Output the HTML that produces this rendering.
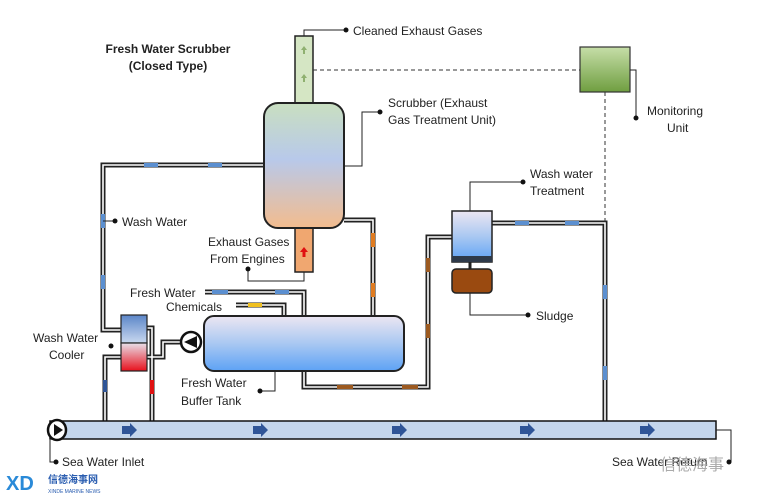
<!DOCTYPE html>
<html><head><meta charset="utf-8"><style>
html,body{margin:0;padding:0;background:#fff;}
svg{display:block;}
text{font-family:"Liberation Sans","Noto Sans CJK SC",sans-serif;font-size:12px;fill:#222;}
</style></head><body>
<svg width="761" height="500" viewBox="0 0 761 500" xmlns="http://www.w3.org/2000/svg">
<defs>
<linearGradient id="gS" x1="0" y1="0" x2="0" y2="1"><stop offset="0" stop-color="#c9dfc0"/><stop offset="0.45" stop-color="#b8c9ea"/><stop offset="1" stop-color="#f3bc8e"/></linearGradient>
<linearGradient id="gT" x1="0" y1="0" x2="0" y2="1"><stop offset="0" stop-color="#ece6f2"/><stop offset="0.5" stop-color="#a9c8f2"/><stop offset="1" stop-color="#5da2f5"/></linearGradient>
<linearGradient id="gM" x1="0" y1="0" x2="0" y2="1"><stop offset="0" stop-color="#c6dea8"/><stop offset="1" stop-color="#6f9e40"/></linearGradient>
<linearGradient id="gC1" x1="0" y1="0" x2="0" y2="1"><stop offset="0" stop-color="#5b86c8"/><stop offset="1" stop-color="#c9d8ef"/></linearGradient>
<linearGradient id="gC2" x1="0" y1="0" x2="0" y2="1"><stop offset="0" stop-color="#e8e0ea"/><stop offset="1" stop-color="#e8101c"/></linearGradient>
</defs>

<g fill="none" stroke="#222" stroke-width="5" stroke-linejoin="miter">
<path d="M264 165 H103 V330 H121"/>
<path d="M147 328 H152 V421"/>
<path d="M121 357 H105 V421"/>
<path d="M147 357 H163 V342 H181"/>
<path d="M344 220 H373 V316"/>
<path d="M205 292 H304 V316"/>
<path d="M236 305 H284 V316"/>
<path d="M304 371 V387 H428 V237 H452"/>
<path d="M492 223 H605 V421"/>
</g>
<g fill="none" stroke="#fff" stroke-width="1.6">
<path d="M264 165 H103 V330 H121"/>
<path d="M147 328 H152 V421"/>
<path d="M121 357 H105 V421"/>
<path d="M147 357 H163 V342 H181"/>
<path d="M344 220 H373 V316"/>
<path d="M205 292 H304 V316"/>
<path d="M236 305 H284 V316"/>
<path d="M304 371 V387 H428 V237 H452"/>
<path d="M492 223 H605 V421"/>
</g>
<g>
<rect x="144" y="163" width="14" height="4" fill="#5b8fd0"/>
<rect x="208" y="163" width="14" height="4" fill="#5b8fd0"/>
<rect x="101" y="214" width="4" height="14" fill="#5b8fd0"/>
<rect x="101" y="275" width="4" height="14" fill="#5b8fd0"/>
<rect x="103" y="380" width="4" height="12" fill="#2f5597"/>
<rect x="150" y="380" width="4" height="14" fill="#e01010"/>
<rect x="212" y="290" width="16" height="4" fill="#5b8fd0"/>
<rect x="275" y="290" width="14" height="4" fill="#5b8fd0"/>
<rect x="248" y="303" width="14" height="4" fill="#f0c020"/>
<rect x="371" y="233" width="4" height="14" fill="#e07b20"/>
<rect x="371" y="283" width="4" height="14" fill="#e07b20"/>
<rect x="337" y="385" width="16" height="4" fill="#9c5a20"/>
<rect x="402" y="385" width="16" height="4" fill="#9c5a20"/>
<rect x="426" y="258" width="4" height="14" fill="#9c5a20"/>
<rect x="426" y="324" width="4" height="14" fill="#9c5a20"/>
<rect x="515" y="221" width="14" height="4" fill="#5b8fd0"/>
<rect x="565" y="221" width="14" height="4" fill="#5b8fd0"/>
<rect x="603" y="285" width="4" height="14" fill="#5b8fd0"/>
<rect x="603" y="366" width="4" height="14" fill="#5b8fd0"/>
</g>

<rect x="295" y="36" width="18" height="68" fill="#d5e6c4" stroke="#222" stroke-width="1.5"/>
<path d="M304 46 l-3 4 h2 v4 h2 v-4 h2z M304 74 l-3 4 h2 v4 h2 v-4 h2z" fill="#8fb070"/>
<rect x="295" y="226" width="18" height="46" fill="#f0a770" stroke="#222" stroke-width="1.5"/>
<path d="M304 247 l-4 5 h2.5 v5 h3 v-5 h2.5z" fill="#e01010"/>
<rect x="264" y="103" width="80" height="125" rx="14" fill="url(#gS)" stroke="#222" stroke-width="2"/>
<line x1="313" y1="70" x2="580" y2="70" stroke="#333" stroke-dasharray="4,3"/>
<line x1="605" y1="92" x2="605" y2="222" stroke="#333" stroke-dasharray="4,3"/>
<rect x="580" y="47" width="50" height="45" fill="url(#gM)" stroke="#333" stroke-width="1.2"/>
<rect x="452" y="211" width="40" height="51" fill="url(#gT)" stroke="#222" stroke-width="1.5"/>
<rect x="452" y="256" width="40" height="6" fill="#2e3a4a"/>
<line x1="470" y1="262" x2="470" y2="269" stroke="#222" stroke-width="3"/>
<rect x="452" y="269" width="40" height="24" rx="4" fill="#9a4a10" stroke="#222" stroke-width="1.5"/>
<rect x="204" y="316" width="200" height="55" rx="10" fill="url(#gT)" stroke="#222" stroke-width="2"/>
<rect x="121" y="315" width="26" height="28" fill="url(#gC1)" stroke="#222" stroke-width="1.2"/>
<rect x="121" y="343" width="26" height="28" fill="url(#gC2)" stroke="#222" stroke-width="1.2"/>
<circle cx="191" cy="342" r="10" fill="#fff" stroke="#111" stroke-width="2.5"/>
<path d="M197 336 L184 342 L197 348z" fill="#111"/>
<rect x="50" y="421" width="666" height="18" fill="#c4d6ec" stroke="#111" stroke-width="1.5"/>
<ellipse cx="57" cy="430" rx="9" ry="10" fill="#fff" stroke="#111" stroke-width="2.5"/>
<path d="M54 424 L63 430 L54 436z" fill="#111"/>
<g fill="#2f5597">
<path d="M122 426 h8 v-3 l7 7 -7 7 v-3 h-8z"/>
<path d="M253 426 h8 v-3 l7 7 -7 7 v-3 h-8z"/>
<path d="M392 426 h8 v-3 l7 7 -7 7 v-3 h-8z"/>
<path d="M520 426 h8 v-3 l7 7 -7 7 v-3 h-8z"/>
<path d="M640 426 h8 v-3 l7 7 -7 7 v-3 h-8z"/>
</g>

<g fill="none" stroke="#222" stroke-width="1">
<path d="M304 36 V30 H346"/>
<path d="M344 166 H362 V112 H380"/>
<path d="M630 70 H636 V118"/>
<path d="M470 211 V182 H523"/>
<path d="M470 293 V315 H528"/>
<path d="M304 272 V281 H248 V269"/>
<path d="M103 221 H115"/>
<path d="M275 371 V391 H260"/>
<path d="M716 430 H731 V462"/>
<path d="M50 440 V462 H56"/>
</g>
<g fill="#111">
<circle cx="346" cy="30" r="2.5"/><circle cx="380" cy="112" r="2.5"/>
<circle cx="636" cy="118" r="2.5"/><circle cx="523" cy="182" r="2.5"/>
<circle cx="528" cy="315" r="2.5"/><circle cx="248" cy="269" r="2.5"/>
<circle cx="115" cy="221" r="2.5"/><circle cx="260" cy="391" r="2.5"/>
<circle cx="729" cy="462" r="2.5"/><circle cx="56" cy="462" r="2.5"/>
<circle cx="111" cy="346" r="2.5"/>
</g>

<text x="168" y="53" text-anchor="middle" font-weight="bold">Fresh Water Scrubber</text>
<text x="168" y="70" text-anchor="middle" font-weight="bold">(Closed Type)</text>
<text x="353" y="35">Cleaned  Exhaust Gases</text>
<text x="388" y="107">Scrubber (Exhaust</text>
<text x="388" y="124">Gas Treatment Unit)</text>
<text x="647" y="115">Monitoring</text>
<text x="667" y="132">Unit</text>
<text x="530" y="178">Wash water</text>
<text x="530" y="195">Treatment</text>
<text x="536" y="320">Sludge</text>
<text x="122" y="226">Wash Water</text>
<text x="208" y="246">Exhaust Gases</text>
<text x="210" y="263">From Engines</text>
<text x="130" y="297">Fresh Water</text>
<text x="166" y="311">Chemicals</text>
<text x="33" y="342">Wash Water</text>
<text x="49" y="359">Cooler</text>
<text x="181" y="387">Fresh Water</text>
<text x="181" y="405">Buffer Tank</text>
<text x="62" y="466">Sea Water Inlet</text>
<text x="612" y="466">Sea Water Return</text>
<text x="660" y="470" style="font-size:16px;fill:#aaa">信德海事</text>
<text x="6" y="490" style="font-size:20px;font-weight:bold;fill:#2a8ad8">XD</text>
<text x="48" y="483" style="font-size:10px;fill:#2a5db0;font-weight:bold">信德海事网</text>
<text x="48" y="493" style="font-size:5px;fill:#2a5db0">XINDE MARINE NEWS</text>
</svg>
</body></html>
